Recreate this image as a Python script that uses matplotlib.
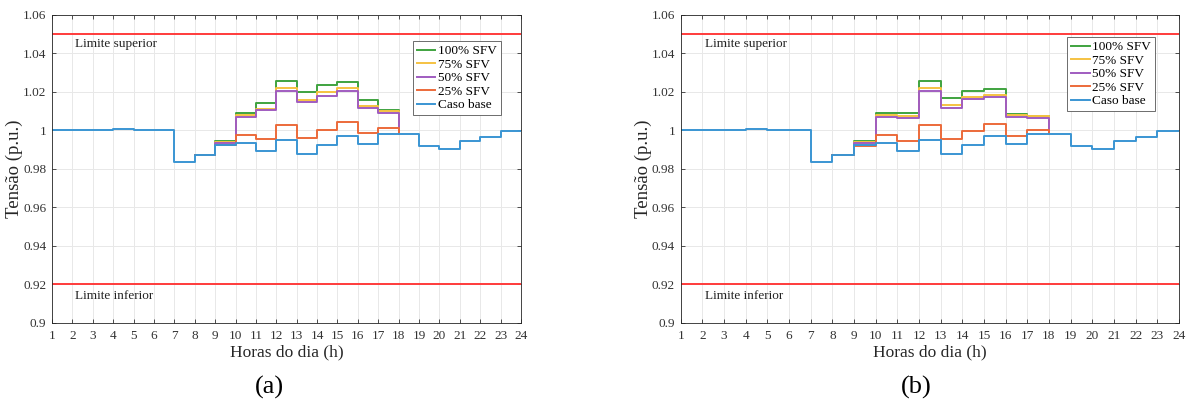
import numpy as np
import matplotlib as mpl
import matplotlib.pyplot as plt
from matplotlib.ticker import FuncFormatter

mpl.rcParams["font.family"] = ["Liberation Serif", "DejaVu Serif"]

hours = np.arange(1, 25)
hours_pv = np.arange(8, 19)

# caso base (igual nos dois cenarios)
base = [1.0, 1.0, 1.0, 1.0005, 1.0, 1.0, 0.9836, 0.9874, 0.9924, 0.9935,
        0.9892, 0.9949, 0.9875, 0.9923, 0.9969, 0.9931, 0.9979, 0.9979,
        0.9920, 0.9904, 0.9946, 0.9963, 0.9998, 0.9998]

# (a) horas 8..18
a_100 = [0.9874, 0.9945, 1.0088, 1.0144, 1.0256, 1.0197, 1.0235, 1.0251, 1.0157, 1.0104, 0.9979]
a_75 = [0.9874, 0.9940, 1.0082, 1.0113, 1.0219, 1.0157, 1.0200, 1.0218, 1.0127, 1.0099, 0.9979]
a_50 = [0.9874, 0.9935, 1.0072, 1.0104, 1.0205, 1.0145, 1.0179, 1.0204, 1.0118, 1.0090, 0.9979]
a_25 = [0.9874, 0.9925, 0.9976, 0.9957, 1.0028, 0.9960, 1.0003, 1.0042, 0.9988, 1.0010, 0.9979]

# (b) horas 8..18
b_100 = [0.9874, 0.9945, 1.0092, 1.0091, 1.0257, 1.0167, 1.0207, 1.0216, 1.0085, 1.0077, 0.9979]
b_75 = [0.9874, 0.9940, 1.0080, 1.0076, 1.0219, 1.0131, 1.0174, 1.0184, 1.0078, 1.0075, 0.9979]
b_50 = [0.9874, 0.9935, 1.0071, 1.0065, 1.0205, 1.0118, 1.0162, 1.0174, 1.0068, 1.0064, 0.9979]
b_25 = [0.9874, 0.9920, 0.9976, 0.9944, 1.0030, 0.9953, 0.9995, 1.0031, 0.9970, 1.0002, 0.9979]

labels = ["100% SFV", "75% SFV", "50% SFV", "25% SFV", "Caso base"]
colors = ["#3fa33f", "#f5c242", "#a05cc0", "#ec6a3a", "#3a95d3"]

lim_sup, lim_inf = 1.05, 0.92

fig = plt.figure(figsize=(11.9, 4.01), dpi=100)
ax_a = fig.add_axes([0.0437, 0.1953, 0.3941, 0.7673])
ax_b = fig.add_axes([0.5720, 0.1953, 0.4187, 0.7673])


def draw(ax, series, leg_anchor, tag, tag_x):
    for y, c, lab in zip(series, colors[:4], labels[:4]):
        ax.step(hours_pv, y, where="post", color=c, lw=1.4, label=lab)
    ax.step(hours, base, where="post", color=colors[4], lw=1.4, label=labels[4])
    ax.axhline(lim_sup, color="#ff3b3b", lw=1.4)
    ax.axhline(lim_inf, color="#ff3b3b", lw=1.4)
    ax.text(2.12, 1.0449, "Limite superior", fontsize=9.5, va="center", color="#222222")
    ax.text(2.12, 0.914, "Limite inferior", fontsize=9.5, va="center", color="#222222")

    ax.set_xlim(1, 24)
    ax.set_ylim(0.9, 1.06)
    ax.set_xticks(hours)
    ax.set_yticks(np.arange(0.9, 1.0601, 0.02))
    ax.yaxis.set_major_formatter(FuncFormatter(lambda v, p: "%g" % round(v, 2)))
    ax.tick_params(direction="in", length=3, width=0.6, top=True, right=True,
                   labelsize=9.5, colors="#333333")
    ax.tick_params(axis="x", pad=5)
    ax.tick_params(axis="y", pad=4)
    ax.grid(True, color="#e8e8e8", lw=0.7)
    ax.set_axisbelow(True)
    for s in ax.spines.values():
        s.set_color("#262626")
        s.set_linewidth(0.6)

    ax.set_xlabel("Horas do dia (h)", fontsize=12.5, color="#262626", labelpad=2)
    ax.set_ylabel("Tensão (p.u.)", fontsize=13.5, color="#262626", labelpad=0)

    leg = ax.legend(loc="upper right", bbox_to_anchor=leg_anchor, borderaxespad=0,
                    fontsize=9.5, handlelength=1.4, handletextpad=0.2, labelspacing=0.1,
                    borderpad=0.3, fancybox=False, framealpha=1, edgecolor="#555555")
    leg.get_frame().set_linewidth(0.6)

    fig.text(tag_x, 1 - 387 / 401, tag, fontsize=19, ha="center", va="center")


draw(ax_a, [a_100, a_75, a_50, a_25], (0.957, 0.9155), "(a)", 269 / 1190)
draw(ax_b, [b_100, b_75, b_50, b_25], (0.952, 0.9285), "(b)", 916 / 1190)

fig.savefig("out.png", dpi=100)
